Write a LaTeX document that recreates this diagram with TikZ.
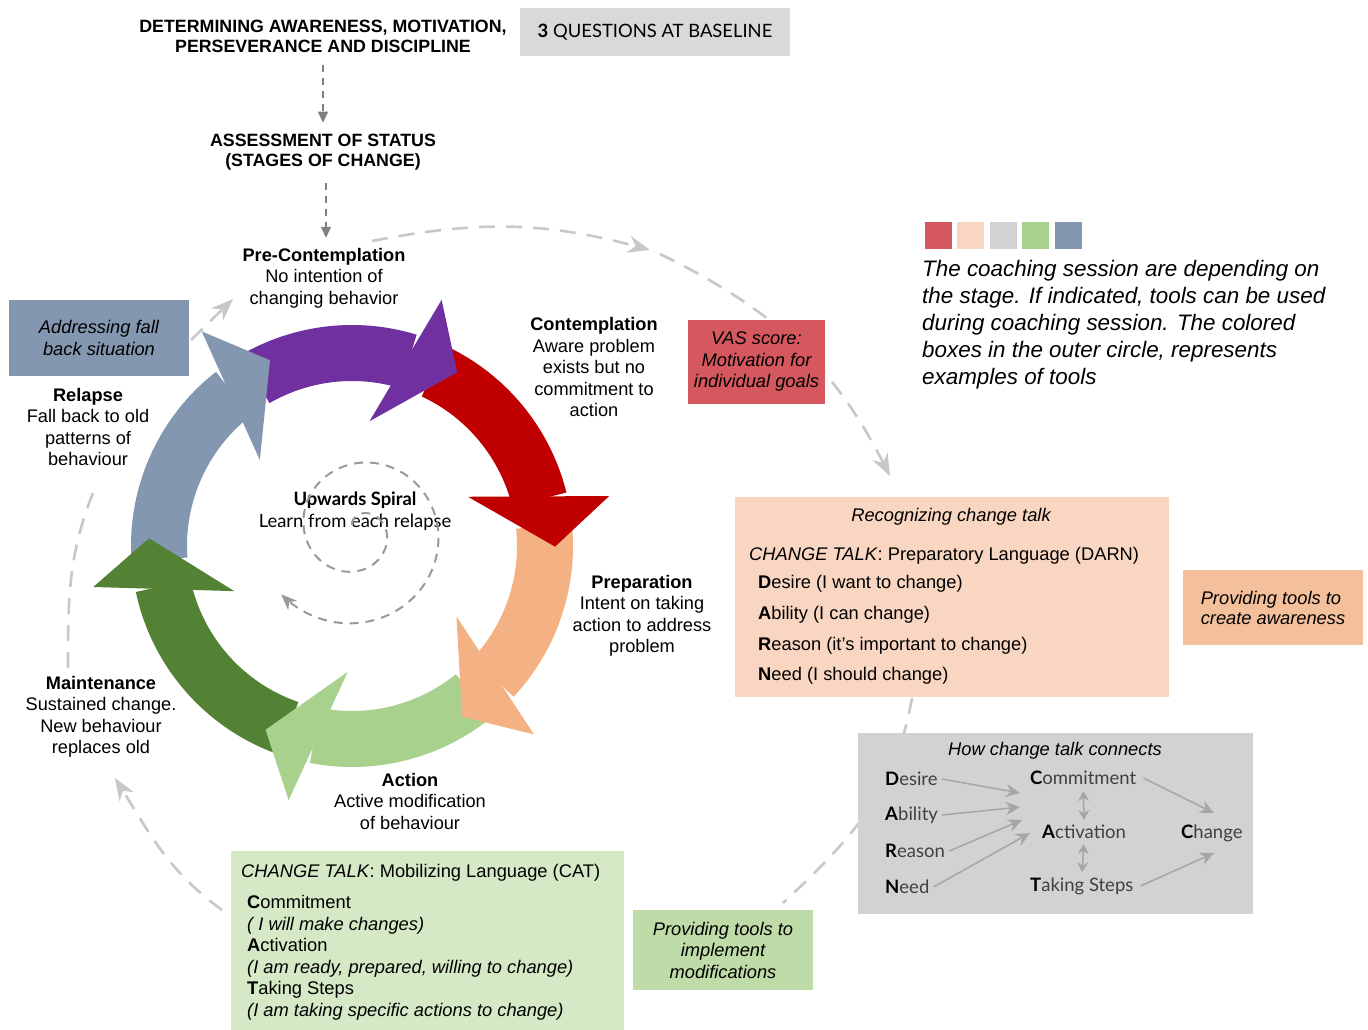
\documentclass[tikz,border=0pt]{standalone}
\usepackage{fontspec}
\setmainfont{Liberation Sans}
\newfontfamily\avfont{Lato}
\usetikzlibrary{arrows.meta,calc,positioning}

\definecolor{ringpurple}{HTML}{7030A0}
\definecolor{ringred}{HTML}{C00000}
\definecolor{ringpeach}{HTML}{F4B183}
\definecolor{ringlgreen}{HTML}{A9D18E}
\definecolor{ringdgreen}{HTML}{548235}
\definecolor{ringblue}{HTML}{8497B0}
\definecolor{boxred}{HTML}{D4585E}
\definecolor{boxpeach}{HTML}{F9D6C1}
\definecolor{boxorange}{HTML}{F4BF9B}
\definecolor{boxgray}{HTML}{D2D2D2}
\definecolor{boxlgray}{HTML}{D9D9D9}
\definecolor{boxgreen}{HTML}{D6E9C6}
\definecolor{boxmgreen}{HTML}{BFDBA7}
\definecolor{loopgray}{HTML}{C8C8C8}

\tikzset{stage/.style={align=center, inner sep=1pt, font=\fontsize{18.2}{21.5}\selectfont},
  caps/.style={align=center, inner sep=1pt, font=\fontsize{17.8}{20}\selectfont\bfseries},
  toolbox/.style={inner sep=0pt, align=center, font=\fontsize{18.3}{21.5}\selectfont\itshape},
  keysq/.style={inner sep=0pt, minimum size=27pt},
  textline/.style={inner sep=1pt, anchor=west, align=left, font=\fontsize{18.3}{21.5}\selectfont},
  talk/.style={inner sep=1pt, anchor=west, font=\avfont\fontsize{18.5}{20}\selectfont, text=black!75},
  downdash/.style={draw=black!50, line width=1.3pt, dash pattern=on 7pt off 6pt, -{Triangle[length=11pt,width=10pt]}},
  loopdash/.style={draw=loopgray, line width=2.6pt, dash pattern=on 16pt off 11pt},
  looptip/.style={-{Stealth[length=22pt,width=17pt,inset=7pt]}},
  spiraldash/.style={draw=black!40, line width=2pt, dash pattern=on 9pt off 7pt, -{Stealth[length=16pt,width=13pt,inset=5pt]}},
  talkarrow/.style={draw=black!35, line width=1.5pt, -{Stealth[length=14pt,width=13pt]}},
  talkboth/.style={talkarrow, {Stealth[length=10pt,width=11pt]}-{Stealth[length=10pt,width=11pt]}}}

\begin{document}
\begin{tikzpicture}[x=1pt, y=1pt]
    \useasboundingbox (0,0) rectangle (1368,-1030);

    % top of the flow
    \node[caps] (determine) at (323,-36) {DETERMINING AWARENESS, MOTIVATION,\\PERSEVERANCE AND DISCIPLINE};
    \node[fill=boxlgray, minimum width=270pt, minimum height=48pt, font=\avfont\fontsize{18.4}{20}\selectfont] (baseline) at (655,-32) {\textbf{3} QUESTIONS AT BASELINE};
    \node[caps] (assess) at (323,-152) {ASSESSMENT OF STATUS\\(STAGES OF CHANGE)};
    \node[stage] (pre) at (324,-278) {\textbf{Pre-Contemplation}\\No intention of\\changing behavior};

    \draw[downdash] ([yshift=-11pt]determine.south) -- ([yshift=10pt]assess.north);
    \draw[downdash] ([xshift=3pt,yshift=-12pt]assess.south) -- ([xshift=2pt,yshift=9pt]pre.north);

    % stage labels
    \node[stage] (contemp) at (594,-367) {\textbf{Contemplation}\\Aware problem\\exists but no\\commitment to\\action};
    \node[stage] (prep) at (642,-616) {\textbf{Preparation}\\Intent on taking\\action to address\\problem};
    \node[stage] (action) at (410,-801) {\textbf{Action}\\Active modification\\of behaviour};
    \node[stage] (maint) at (101,-717) {\textbf{Maintenance}\\Sustained change.\\New behaviour\\replaces old};
    \node[stage] (relapse) at (88,-427) {\textbf{Relapse}\\Fall back to old\\patterns of\\behaviour};

    % outer dashed loop
    \coordinate (loopA) at (372,-241);
    \coordinate (loopB) at (650,-250);
    \coordinate (loopC) at (660,-254);
    \coordinate (loopD) at (890,-476);
    \coordinate (loopE) at (912,-698);
    \coordinate (loopF) at (783,-903);
    \coordinate (loopG) at (222,-910);
    \coordinate (loopH) at (115,-778);
    \coordinate (loopI) at (68,-668);
    \coordinate (loopJ) at (97,-483);
    \coordinate (loopK) at (191,-340);
    \coordinate (loopL) at (233,-299);
    \draw[loopdash, looptip] (loopA) to[out=11, in=165] (loopB);
    \draw[loopdash, looptip] (loopC) to[out=-26, in=117] (loopD);
    \draw[loopdash] (loopE) to[out=-100, in=43] (loopF);
    \draw[loopdash, looptip] (loopG) to[out=144, in=-58] (loopH);
    \draw[loopdash] (loopI) to[out=90, in=-113] (loopJ);
    \draw[loopdash, looptip] (loopK) -- (loopL);

    % the ring of stages
    \coordinate (ring) at (352,-546);
    \fill[ringpurple] ($(ring)+(120:221)$) arc[start angle=120, end angle=73, radius=221pt] -- ($(ring)+(73:165)$) arc[start angle=73, end angle=120, radius=165pt] -- cycle;
    \fill[ringred] ($(ring)+(65:221)$) arc[start angle=65, end angle=14, radius=221pt] -- ($(ring)+(14:165)$) arc[start angle=14, end angle=65, radius=165pt] -- cycle;
    \fill[ringpeach] ($(ring)+(6:221)$) arc[start angle=6, end angle=-43, radius=221pt] -- ($(ring)+(-43:165)$) arc[start angle=-43, end angle=6, radius=165pt] -- cycle;
    \fill[ringlgreen] ($(ring)+(-51:221)$) arc[start angle=-51, end angle=-101, radius=221pt] -- ($(ring)+(-101:165)$) arc[start angle=-101, end angle=-51, radius=165pt] -- cycle;
    \fill[ringdgreen] ($(ring)+(-109:221)$) arc[start angle=-109, end angle=-168, radius=221pt] -- ($(ring)+(-168:165)$) arc[start angle=-168, end angle=-109, radius=165pt] -- cycle;
    \fill[ringblue] ($(ring)+(-176:221)$) arc[start angle=-176, end angle=-232, radius=221pt] -- ($(ring)+(-232:165)$) arc[start angle=-232, end angle=-176, radius=165pt] -- cycle;
    % heads
    \fill[ringpurple] ($(ring)+(70:262)$) -- ($(ring)+(76:194)+(-14:60)$) -- ($(ring)+(82:126)$) -- cycle;
    \fill[ringred] ($(ring)+(11:262)$) -- ($(ring)+(17:194)+(-73:60)$) -- ($(ring)+(23:126)$) -- cycle;
    \fill[ringpeach] ($(ring)+(-46:262)$) -- ($(ring)+(-40:194)+(-130:60)$) -- ($(ring)+(-34:126)$) -- cycle;
    \fill[ringlgreen] ($(ring)+(-104:262)$) -- ($(ring)+(-98:194)+(-188:60)$) -- ($(ring)+(-92:126)$) -- cycle;
    \fill[ringdgreen] ($(ring)+(-171:262)$) -- ($(ring)+(-165:194)+(-255:60)$) -- ($(ring)+(-159:126)$) -- cycle;
    \fill[ringblue] ($(ring)+(-235:262)$) -- ($(ring)+(-229:194)+(-319:60)$) -- ($(ring)+(-223:126)$) -- cycle;

    % spiral in the middle
    \node[align=center, inner sep=1pt, font=\avfont\fontsize{18.4}{22}\selectfont] (spiral) at (355,-511) {\textbf{Upwards Spiral}\\Learn from each relapse};
    \draw[spiraldash] plot[domain=0:640, samples=160, smooth, variable=\t] ({358+(67+(\t-410)*0.1444)*cos(500-\t)}, {-530+(67+(\t-410)*0.1444)*sin(500-\t)});

    % tool boxes
    \node[fill=ringblue, minimum width=180pt, minimum height=76pt, toolbox] (fallback) at (99,-338) {Addressing fall\\back situation};
    \node[fill=boxred, minimum width=137pt, minimum height=84pt, toolbox] (vas) at (756.5,-362) {VAS score:\\Motivation for\\individual goals};
    \node[fill=boxorange, minimum width=180pt, minimum height=75pt, toolbox, align=left, font=\fontsize{18.3}{20}\selectfont\itshape] (aware) at (1273,-607.5) {Providing tools to\\create awareness};
    \node[fill=boxmgreen, minimum width=180pt, minimum height=80pt, toolbox] (implement) at (723,-950) {Providing tools to\\implement\\modifications};

    % legend
    \node[keysq, fill=boxred] (key1) at (938.5,-235) {};
    \node[keysq, fill=boxpeach, right=5pt of key1] (key2) {};
    \node[keysq, fill=boxgray, right=5pt of key2] (key3) {};
    \node[keysq, fill=ringlgreen, right=5pt of key3] (key4) {};
    \node[keysq, fill=ringblue, right=5pt of key4] (key5) {};
    \node[anchor=north west, align=left, inner sep=0pt, font=\fontsize{22.4}{27}\selectfont\itshape] (legend) at (922,-260) {The coaching session are depending on\\the stage. If indicated, tools can be used\\during coaching session. The colored\\boxes in the outer circle, represents\\examples of tools};

    % preparatory language
    \node[fill=boxpeach, minimum width=434pt, minimum height=200pt] (recog) at (952,-597) {};
    \node[toolbox] (recogtitle) at (951,-517) {Recognizing change talk};
    \node[textline] (darn) at (748,-556) {\textit{CHANGE TALK}: Preparatory Language (DARN)};
    \node[textline, font=\fontsize{18.3}{30.6}\selectfont] (darnlist) at (757,-630) {\textbf{D}esire (I want to change)\\\textbf{A}bility (I can change)\\\textbf{R}eason (it's important to change)\\\textbf{N}eed (I should change)};

    % how change talk connects
    \node[fill=boxgray, minimum width=395pt, minimum height=181pt] (connect) at (1055.5,-823.5) {};
    \node[toolbox] (connecttitle) at (1055,-751) {How change talk connects};
    \node[talk] (desire) at (884,-779) {\textcolor{black}{\textbf{D}}esire};
    \node[talk] (ability) at (884,-815) {\textcolor{black}{\textbf{A}}bility};
    \node[talk] (reason) at (884,-851) {\textcolor{black}{\textbf{R}}eason};
    \node[talk] (need) at (884,-887) {\textcolor{black}{\textbf{N}}eed};
    \node[talk] (commit) at (1029,-778) {\textcolor{black}{\textbf{C}}ommitment};
    \node[talk] (activ) at (1041,-832) {\textcolor{black}{\textbf{A}}ctivation};
    \node[talk] (steps) at (1029,-886) {\textcolor{black}{\textbf{T}}aking Steps};
    \node[talk] (change) at (1180,-833) {\textcolor{black}{\textbf{C}}hange};
    \coordinate (desirein) at (1020,-793);
    \coordinate (abilityin) at (1020,-807);
    \coordinate (reasonin) at (1022,-820);
    \coordinate (needin) at (1030,-833);
    \coordinate (commitout) at (1214,-813);
    \coordinate (stepsout) at (1214,-853);
    \draw[talkarrow] ([xshift=3pt]desire.east) -- (desirein);
    \draw[talkarrow] ([xshift=3pt]ability.east) -- (abilityin);
    \draw[talkarrow] ([xshift=3pt]reason.east) -- (reasonin);
    \draw[talkarrow] ([xshift=3pt]need.east) -- (needin);
    \draw[talkboth, shorten <=5pt, shorten >=4pt] (commit.south) -- (activ.north);
    \draw[talkboth, shorten <=4pt, shorten >=4pt] (activ.south) -- (steps.north);
    \draw[talkarrow] ([xshift=6pt]commit.east) -- (commitout);
    \draw[talkarrow] ([xshift=6pt]steps.east) -- (stepsout);

    % mobilizing language
    \node[fill=boxgreen, minimum width=393pt, minimum height=179pt] (mobil) at (427.5,-940.5) {};
    \node[textline] (cat) at (240,-873) {\textit{CHANGE TALK}: Mobilizing Language (CAT)};
    \node[textline] (catlist) at (246,-958) {\textbf{C}ommitment\\\textit{( I will make changes)}\\\textbf{A}ctivation\\\textit{(I am ready, prepared, willing to change)}\\\textbf{T}aking Steps\\\textit{(I am taking specific actions to change)}};

\end{tikzpicture}
\end{document}
